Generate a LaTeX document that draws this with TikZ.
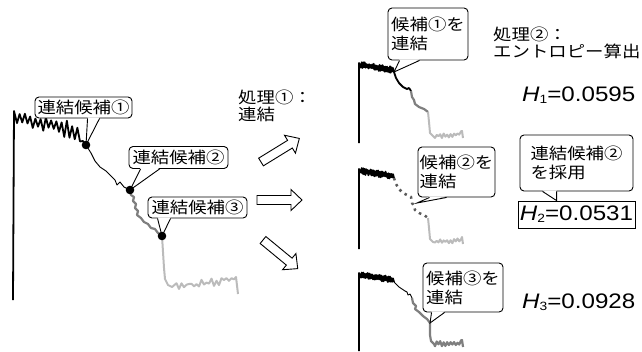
\documentclass[tikz,border=0pt]{standalone}
\usepackage{fontspec}
\newfontfamily\jpfam[FakeStretch=1.15]{Noto Sans CJK JP}
\newfontfamily\nmfam[FakeStretch=1.15]{Liberation Sans}
\definecolor{mgray}{HTML}{7F7F7F}
\definecolor{lgray}{HTML}{BBBBBB}
\definecolor{dgray}{HTML}{5A5A5A}
\newcommand\hval[2]{\textit{H}\raisebox{-2pt}{\fontsize{12}{12}\selectfont #1}=#2}
\newcommand\ctail[4]{%
  \fill[white] ([xshift=#2pt,yshift=1.2pt]#1.south west) -- (#4) -- ([xshift=#3pt,yshift=1.2pt]#1.south west) -- cycle;
  \draw[line width=0.9pt] ([xshift=#2pt]#1.south west) -- (#4) -- ([xshift=#3pt]#1.south west);}
\tikzset{
  cbox/.style={draw=black, line width=0.9pt, rounded corners=4pt, fill=white, inner sep=0pt,
    align=left, font={\jpfam\fontsize{16}{19}\selectfont}},
  hbox/.style={draw=black, line width=0.9pt, fill=white, inner sep=0pt,
    font={\nmfam\fontsize{21}{24}\selectfont}},
  hnum/.style={inner sep=0pt, font={\nmfam\fontsize{21}{24}\selectfont}},
  lbl/.style={inner sep=0pt, align=left, font={\jpfam\fontsize{16}{17}\selectfont}},
  blk/.style={black, line width=1.8pt, line join=round},
  thinblk/.style={black, line width=0.9pt, line join=round},
  gry/.style={mgray, line width=2.2pt, line join=round},
  lgt/.style={lgray, line width=2pt, line join=round},
  dotline/.style={dgray, line width=2.5pt, dash pattern=on 2.5pt off 4pt},
  barrow/.pic={\draw[line width=0.9pt, fill=white, line join=miter]
    (0,-4.5) -- (34,-4.5) -- (34,-10.5) -- (45,0) -- (34,10.5) -- (34,4.5) -- (0,4.5) -- cycle;}
}
\begin{document}
\begin{tikzpicture}[x=1pt,y=-1pt]
\useasboundingbox (0,0) rectangle (642,351);
\pgfmathsetseed{11}
% ---------------- left plot
\coordinate (d1) at (86,145);
\coordinate (d2) at (130,190);
\coordinate (d3) at (162,236);
\draw[blk] (13,300) -- (14,111) -- plot[domain=0:1,samples=25,variable=\t]
  ({17+63*\t},{119+15*\t^1.5+(4+3*\t)*cos(\t*24*180)+3*rand}) -- (83,141) -- (d1);
\draw[thinblk] (d1) -- (91,153) -- (95,161) -- (100,167) -- (106,171) -- (111,176) -- (115,180)
  -- (117,185) -- (120,182) -- (124,187) -- (d2);
\draw[gry] (d2) -- (131,195) -- (134,197) -- (133,201) -- (136,204) -- (135,208) -- (138,211)
  -- (137,215) -- (141,218) -- (144,222) -- (148,224) -- (151,228) -- (155,229) -- (158,233) -- (d3);
\draw[lgt] (d3) -- (163,252) -- (164,268) -- (165,279) -- (168,285) -- (172,287)
  -- plot[domain=0:1,samples=25,variable=\t] ({174+60*\t},{286-6*\t+1.5*cos(\t*24*180)+2.8*rand})
  -- (236,277) -- (238,294);
% ---------------- right plot 1
\coordinate (p1a) at (394,72);
\coordinate (p1b) at (411,91);
\coordinate (p1c) at (428,112);
\draw[blk] (359,143) -- (359,63) -- plot[domain=0:1,samples=44,variable=\t]
  ({361+32*\t},{65+5*\t+2.3*cos(\t*43*180)+1*rand}) -- (p1a);
\draw[blk] (p1a) -- (396,78) -- (399,83) -- (403,87) -- (407,89) -- (409,88) -- (p1b);
\draw[gry] (p1b) -- (412,97) -- (414,100) -- (415,104) -- (419,107) -- (424,109) -- (p1c);
\draw[lgt] (p1c) -- (429,122) -- (430,133) -- (433,136) -- plot[domain=0:1,samples=16,variable=\t]
  ({435+26*\t},{136-2*\t+1.5*cos(\t*15*180)+1.2*rand}) -- (462,131) -- (463,138);
% ---------------- right plot 2
\begin{scope}[yshift=-106pt]
\coordinate (p2a) at (394,72);
\coordinate (p2c) at (428,112);
\draw[blk] (359,143) -- (359,63) -- plot[domain=0:1,samples=44,variable=\t]
  ({361+32*\t},{65+5*\t+2.3*cos(\t*43*180)+1*rand}) -- (p2a);
\draw[dotline] (p2a) -- (396,78) -- (399,83) -- (403,87) -- (407,89) -- (411,91) -- (412,97)
  -- (414,100) -- (415,104) -- (419,107) -- (424,109) -- (p2c);
\draw[lgt] (p2c) -- (429,122) -- (430,133) -- (433,136) -- plot[domain=0:1,samples=16,variable=\t]
  ({435+26*\t},{136-2*\t+1.5*cos(\t*15*180)+1.2*rand}) -- (462,131) -- (463,138);
\end{scope}
% ---------------- right plot 3
\begin{scope}[yshift=-210pt]
\coordinate (p3a) at (394,72);
\coordinate (p3b) at (412,88);
\coordinate (p3c) at (430,113);
\draw[blk] (359,141) -- (359,63) -- plot[domain=0:1,samples=44,variable=\t]
  ({361+32*\t},{65+5*\t+2.3*cos(\t*43*180)+1*rand}) -- (p3a);
\draw[thinblk] (p3a) -- (396,74) -- (399,77) -- (402,79) -- (405,81) -- (407,82) -- (408,85)
  -- (410,84) -- (p3b);
\draw[gry] (p3b) -- (413,93) -- (416,96) -- (415,99) -- (419,102) -- (423,106) -- (427,109) -- (p3c);
\draw[gry] (p3c) -- (430,125) -- (431,131) -- (434,134) -- plot[domain=0:1,samples=16,variable=\t]
  ({435+26*\t},{134-1*\t+1.5*cos(\t*15*180)+1.2*rand}) -- (462,130) -- (463,137);
\end{scope}
\coordinate (t2) at (417,203);
% ---------------- arrows
\pic[rotate=31.6] at (261,162) {barrow};
\pic at (257,200) {barrow};
\pic[rotate=-39.5] at (263,240) {barrow};
% ---------------- callouts
\node[cbox, minimum width=97pt, minimum height=21pt] (L1) at (83.5,107.5) {連結候補①};
\node[cbox, minimum width=99pt, minimum height=22pt] (L2) at (178.5,157.5) {連結候補②};
\node[cbox, minimum width=99pt, minimum height=21pt] (L3) at (197.5,207.5) {連結候補③};
\node[cbox, minimum width=80pt, minimum height=52pt] (R1) at (428,34) {候補①を\\連結};
\node[cbox, minimum width=77pt, minimum height=50pt] (R2) at (456.5,172) {候補②を\\連結};
\node[cbox, minimum width=80pt, minimum height=49pt] (R3) at (463,287.5) {候補③を\\連結};
\node[cbox, minimum width=113pt, minimum height=56pt] (C) at (576.5,163) {連結候補②\\を採用};
\node[hbox, minimum width=117pt, minimum height=27pt] (H2) at (576.5,214.5) {\hval{2}{0.0531}};
\coordinate (t4) at ([xshift=39pt]H2.north west);
\ctail{L1}{53}{65}{d1}
\ctail{L2}{12}{31}{d2}
\ctail{L3}{10}{23}{d3}
\ctail{R1}{12}{32}{p1a}
\ctail{R2}{12}{29}{t2}
\ctail{R3}{9}{22}{p3c}
\ctail{C}{23}{37}{t4}
% ---------------- dots
\fill (d1) circle (4.3pt);
\fill (d2) circle (4.3pt);
\fill (d3) circle (4.3pt);
% ---------------- texts
\node[lbl, anchor=north west] (T1) at (238,90) {処理①：\\連結};
\node[lbl, anchor=north west] (T2) at (493,27) {処理②：\\エントロピー算出};
\node[hnum, anchor=base west] (H1) at (522,101) {\hval{1}{0.0595}};
\node[hnum, anchor=base west] (H3) at (522,308) {\hval{3}{0.0928}};
\end{tikzpicture}
\end{document}
